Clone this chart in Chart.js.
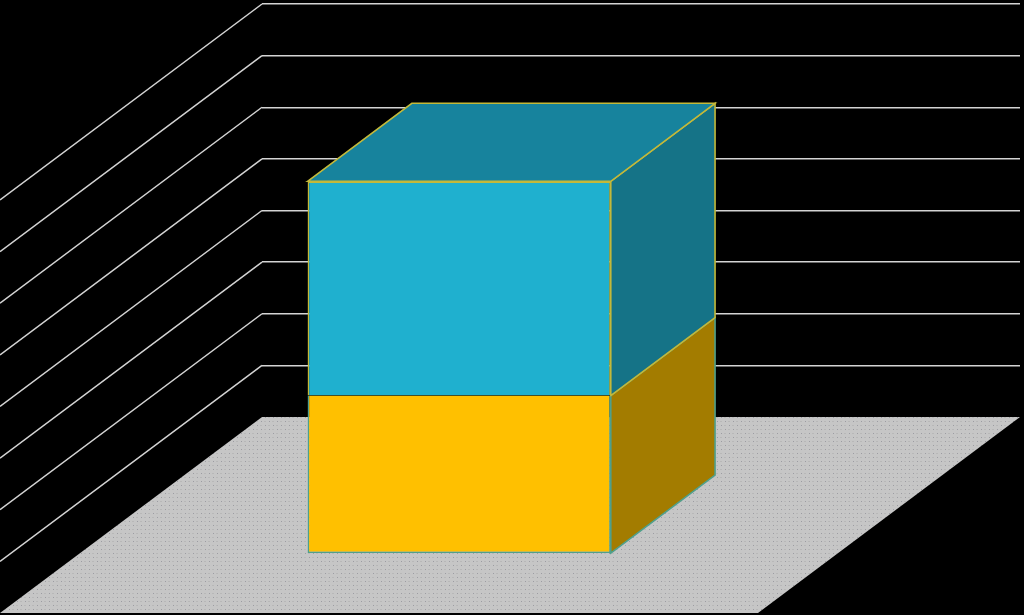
<!DOCTYPE html>
<html>
<head>
<meta charset="utf-8">
<script src="https://cdn.jsdelivr.net/npm/chart.js@4"></script>
<style>
  html, body { margin: 0; padding: 0; background: #000; overflow: hidden; }
  canvas { display: block; }
</style>
</head>
<body>
<canvas id="myChart" width="1024" height="615"></canvas>
<script>
// values, in gridline units
const categories = [''];
const lowerValues = [3.05];
const upperValues = [4.15];
const axisMin = 0;
const axisMax = 8;
const axisStep = 1;

// oblique projection: how far the front of the floor is from the back wall
const floorShiftX = -262;
const floorShiftY = 196;
const barFrontDepth = 0.694;
const barBackDepth = 0.296;

// dotted grey floor
function floorPattern(ctx) {
  let tile = document.createElement('canvas');
  tile.width = 8;
  tile.height = 8;
  let t = tile.getContext('2d');
  t.fillStyle = '#c6c6c6';
  t.fillRect(0, 0, 8, 8);
  t.fillStyle = '#9c9ca2';
  t.fillRect(1, 1, 1, 1);
  t.fillRect(5, 5, 1, 1);
  t.fillStyle = '#b8b8b8';
  t.fillRect(4, 1, 2, 1);
  t.fillRect(0, 5, 2, 1);
  return ctx.createPattern(tile, 'repeat');
}

function shape(ctx, points, fill, stroke) {
  ctx.beginPath();
  points.forEach((p, i) => i ? ctx.lineTo(p[0], p[1]) : ctx.moveTo(p[0], p[1]));
  ctx.closePath();
  ctx.fillStyle = fill;
  ctx.fill();
  if (stroke) {
    ctx.strokeStyle = stroke;
    ctx.lineWidth = 1.6;
    ctx.stroke();
  }
}

// point on the back wall moved forward by depth (0 = wall, 1 = front of floor)
function forward(px, py, depth) {
  return [px + floorShiftX * depth, py + floorShiftY * depth];
}

const depthPlugin = {
  id: 'depth',
  beforeDatasetsDraw(chart) {
    let ctx = chart.ctx;
    let area = chart.chartArea;
    let y = chart.scales.y;
    let base = y.getPixelForValue(axisMin);

    // floor
    shape(ctx, [
      [area.left, base],
      [area.right, base],
      forward(area.right, base, 1),
      forward(area.left, base, 1)
    ], floorPattern(ctx));

    // side wall gridlines, same ticks as the back wall
    ctx.strokeStyle = '#d4d4d4';
    ctx.lineWidth = 1.5;
    y.ticks.forEach(tick => {
      if (tick.value === axisMin) return;
      let py = y.getPixelForValue(tick.value);
      let end = forward(area.left, py, 1);
      ctx.beginPath();
      ctx.moveTo(area.left, py);
      ctx.lineTo(end[0], end[1]);
      ctx.stroke();
    });

    // side and top faces of the stacked column, from the bar elements
    let faces = [
      { meta: chart.getDatasetMeta(0), side: '#a37c00', stroke: '#4fa08c' },
      { meta: chart.getDatasetMeta(1), side: '#157387', top: '#17839d', stroke: '#c4b93a' }
    ];
    faces.forEach(f => {
      let bar = f.meta.data[0];
      let left = bar.x - bar.width / 2;
      let right = bar.x + bar.width / 2;
      shape(ctx, [
        forward(right, bar.base, barFrontDepth),
        forward(right, bar.base, barBackDepth),
        forward(right, bar.y, barBackDepth),
        forward(right, bar.y, barFrontDepth)
      ], f.side, f.stroke);
      if (f.top) {
        shape(ctx, [
          forward(left, bar.y, barFrontDepth),
          forward(left, bar.y, barBackDepth),
          forward(right, bar.y, barBackDepth),
          forward(right, bar.y, barFrontDepth)
        ], f.top, f.stroke);
      }
    });

    // front faces are the library's own bars, moved forward onto the front plane
    let shift = forward(0, 0, barFrontDepth);
    ctx.save();
    ctx.translate(shift[0], shift[1]);
  },
  afterDatasetsDraw(chart) {
    chart.ctx.restore();
  }
};

let ctx = document.getElementById('myChart').getContext('2d');

let myChart = new Chart(ctx, {
  type: 'bar',
  data: {
    labels: categories,
    datasets: [
      {
        label: 'lower',
        data: lowerValues,
        backgroundColor: '#ffc000',
        borderColor: '#4fa08c',
        borderWidth: 1.6,
        borderSkipped: 'top',
        clip: false
      },
      {
        label: 'upper',
        data: upperValues,
        backgroundColor: '#1fb0cf',
        borderColor: '#c4b93a',
        borderWidth: 1.6,
        clip: false
      }
    ]
  },
  options: {
    responsive: false,
    animation: false,
    devicePixelRatio: 1,
    layout: { padding: { left: 262, top: 4, right: 4, bottom: 198 } },
    categoryPercentage: 0.4,
    barPercentage: 1,
    plugins: {
      legend: { display: false },
      title: { display: false },
      tooltip: { enabled: false }
    },
    scales: {
      x: {
        display: false,
        stacked: true
      },
      y: {
        stacked: true,
        min: axisMin,
        max: axisMax,
        grid: {
          color: '#d4d4d4',
          // no line along the back edge of the floor
          lineWidth: c => c.tick.value === axisMin ? 0 : 1.5,
          drawTicks: false
        },
        border: { display: false },
        ticks: { display: false, stepSize: axisStep }
      }
    }
  },
  plugins: [depthPlugin]
});
</script>
</body>
</html>
